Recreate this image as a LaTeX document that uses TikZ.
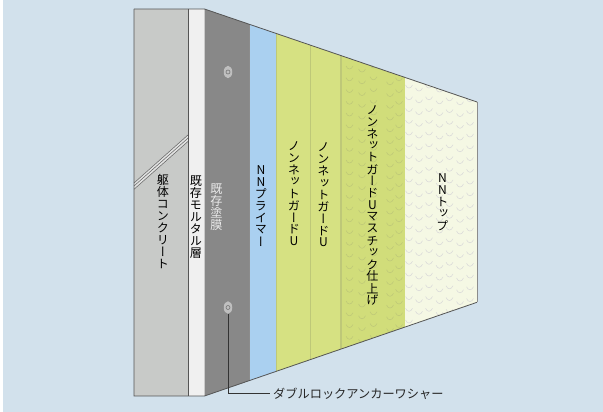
\documentclass[tikz,border=0pt]{standalone}
\usepackage{fontspec}
\newfontfamily\jpv[RawFeature={+vert}]{Noto Sans CJK JP}
\newfontfamily\jph{Noto Sans CJK JP}
\usetikzlibrary{calc,shapes.geometric}
\definecolor{bg}{RGB}{210,225,236}
\definecolor{concrete}{RGB}{200,202,200}
\definecolor{mortar}{RGB}{240,240,240}
\definecolor{oldcoat}{RGB}{136,136,136}
\definecolor{primer}{RGB}{170,208,240}
\definecolor{guard}{RGB}{214,225,130}
\definecolor{mastic}{RGB}{209,221,122}
\definecolor{topcoat}{RGB}{245,248,228}
\definecolor{seam}{RGB}{190,200,120}
\definecolor{edge}{RGB}{85,85,85}
\ExplSyntaxOn
\NewDocumentCommand\vstack{O{11.9pt}m}{
  \vbox{\offinterlineskip\tl_map_inline:nn{#2}{\hbox~to~13pt{\hss\vbox~to~#1{\vss\hbox{##1}\vss}\hss}}}
}
\ExplSyntaxOff
\tikzset{
  vlabel/.style={inner sep=0pt,font=\fontsize{12.1pt}{13pt}\selectfont\jpv,text=black},
  hlabel/.style={inner ysep=0pt,inner xsep=3pt,font=\fontsize{12.2pt}{13pt}\selectfont\jph,text=black!85},
  anchorbolt/.style={ellipse,minimum width=8.5pt,minimum height=12.5pt,inner sep=0pt,fill=black!25},
  scale mark/.style={draw=#1,line width=.55pt},
}
\begin{document}
\begin{tikzpicture}[x=1pt,y=-1pt]
\useasboundingbox (0,0) rectangle (603,412);
\fill[white] (0,0) rectangle (603,412);
\fill[bg] (3,0) rectangle (603,412);
% flat faces
\fill[concrete] (134,9) rectangle (188.5,396);
\fill[mortar] (188.5,9) rectangle (204.5,396);
\fill[oldcoat] (204.5,9) -- (249.5,24.3) -- (249.5,380.7) -- (204.5,396) -- cycle;
\fill[primer] (249.5,24.3) -- (276,33.4) -- (276,371.6) -- (249.5,380.7) -- cycle;
\fill[guard] (276,33.4) -- (341,55.6) -- (341,349.2) -- (276,371.6) -- cycle;
\fill[mastic] (341,55.6) -- (405,77.4) -- (405,327) -- (341,349.2) -- cycle;
\fill[topcoat] (405,77.4) -- (477,102) -- (477,302.3) -- (405,327) -- cycle;
% scale pattern
\begin{scope}
\clip (341,55.6) -- (405,77.4) -- (405,327) -- (341,349.2) -- cycle;
\foreach \cx/\cy in {349.5/0,362/3,373.5/-1,390/4,399/0}{
  \foreach \n in {0,...,24}{
    \draw[scale mark=seam] (\cx-3.5,66+\cy+\n*11.75) .. controls (\cx-2,70+\cy+\n*11.75) and (\cx+2,70+\cy+\n*11.75) .. (\cx+3.5,66+\cy+\n*11.75);
  }
}
\end{scope}
\begin{scope}
\clip (405,77.4) -- (477,102) -- (477,302.3) -- (405,327) -- cycle;
\foreach \cx/\cy in {409/0,419/3,429/0,439.5/4,449.5/1,460/5,470/2}{
  \foreach \n in {0,...,22}{
    \draw[scale mark={black!15}] (\cx-3.5,85+\cy+\n*11.75) .. controls (\cx-2,89+\cy+\n*11.75) and (\cx+2,89+\cy+\n*11.75) .. (\cx+3.5,85+\cy+\n*11.75);
  }
}
\end{scope}
% seams
\draw[seam,line width=1.2pt] (276.5,33.6) -- (276.5,371.4);
\draw[seam,line width=1.2pt] (310.5,45) -- (310.5,360);
\draw[seam,line width=1.2pt] (341,55.6) -- (341,349.2);
\draw[black!45,line width=.8pt] (249.5,24.3) -- (249.5,380.7);
\draw[black!45,line width=.8pt] (477,102) -- (477,302.3);
% crack
\fill[concrete!50!white] (134,183) -- (188.5,134.5) -- (188.5,141) -- (134,189.5) -- cycle;
\draw[black!60,line width=.55pt] (134,183) -- (188.5,134.5);
\draw[black!60,line width=.55pt] (134,186) -- (188.5,137.7);
\draw[black!60,line width=.55pt] (134,189.3) -- (188.5,141);
% outlines
\draw[edge,line width=.8pt] (134,9) -- (204.5,9) -- (477,102);
\draw[edge,line width=.8pt] (134,9) -- (134,396) -- (204.5,396) -- (477,302.3);
\draw[edge,line width=.8pt] (188.5,9) -- (188.5,396);
% anchors
\node[anchorbolt] (a1) at (228,72) {};
\node[anchorbolt] (a2) at (228,307.5) {};
\draw[black!55,line width=.6pt] (a1) circle (2pt);
\draw[black!55,line width=.6pt] (a2) circle (2pt);
% labels
\node[vlabel] (t1) at (163,222) {\vstack{躯体コンクリート}};
\node[vlabel] (t2) at (196,217) {\vstack{既存モルタル層}};
\node[vlabel,text=white!92!black] (t3) at (216.5,207) {\vstack{既存塗膜}};
\node[vlabel] (t4) at (261,206) {\vstack{NNプライマー}};
\node[vlabel] (t5) at (294,193.5) {\vstack{ノンネットガードU}};
\node[vlabel] (t6) at (323.5,195) {\vstack{ノンネットガードU}};
\node[vlabel] (t7) at (372.5,205) {\vstack{ノンネットガードUマスチック仕上げ}};
\node[vlabel] (t8) at (442.5,201.5) {\vstack{NNトップ}};
\node[hlabel,anchor=west] (t9) at (270,393.5) {ダブルロックアンカーワシャー};
\draw[black!80,line width=.7pt] (a2.south) |- (t9.west);
\end{tikzpicture}
\end{document}
